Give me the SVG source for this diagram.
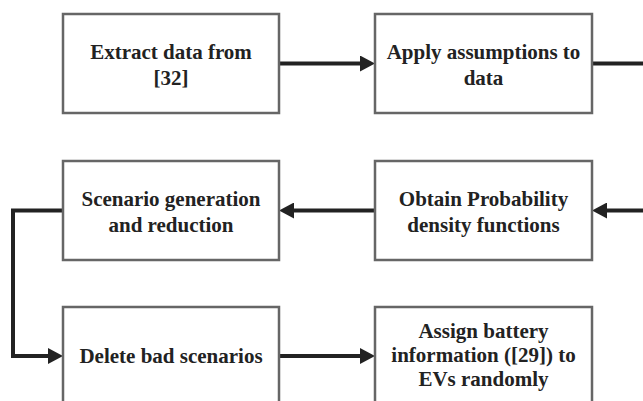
<svg xmlns="http://www.w3.org/2000/svg" width="643" height="401" viewBox="0 0 643 401">
<style>
.box{fill:#fff;stroke:#666;stroke-width:2.5}
.lbl{font-family:"Liberation Serif","Times New Roman",serif;font-weight:bold;font-size:21px;fill:#222;text-anchor:middle}
.con{fill:none;stroke:#222;stroke-width:4;stroke-linejoin:miter}
</style>
<defs>
<marker id="ah" markerUnits="userSpaceOnUse" viewBox="0 0 15 16" refX="0" refY="8" markerWidth="15" markerHeight="16" orient="auto">
<path d="M0,0 L15,8 L0,16 Z" fill="#222"/>
</marker>
</defs>
<rect width="643" height="401" fill="#fff"/>
<g id="connectors">
<path class="con" d="M279,63.5 H360" marker-end="url(#ah)"/>
<path class="con" d="M592,63.5 H643"/>
<path class="con" d="M643,210.5 H607" marker-end="url(#ah)"/>
<path class="con" d="M375,210.5 H294" marker-end="url(#ah)"/>
<path class="con" d="M63,210.5 H13 V356 H48" marker-end="url(#ah)"/>
<path class="con" d="M279,356 H360" marker-end="url(#ah)"/>
</g>
<g id="n1">
<rect class="box" x="63" y="14" width="216" height="99"/>
<text class="lbl" x="171" y="59">Extract data from</text>
<text class="lbl" x="171" y="85">[32]</text>
</g>
<g id="n2">
<rect class="box" x="375" y="14" width="217" height="99"/>
<text class="lbl" x="483.5" y="59">Apply assumptions to</text>
<text class="lbl" x="483.5" y="85">data</text>
</g>
<g id="n3">
<rect class="box" x="375" y="161" width="217" height="99"/>
<text class="lbl" x="483.5" y="206">Obtain Probability</text>
<text class="lbl" x="483.5" y="232">density functions</text>
</g>
<g id="n4">
<rect class="box" x="63" y="161" width="216" height="99"/>
<text class="lbl" x="171" y="206">Scenario generation</text>
<text class="lbl" x="171" y="232">and reduction</text>
</g>
<g id="n5">
<rect class="box" x="63" y="307" width="216" height="99"/>
<text class="lbl" x="171" y="363">Delete bad scenarios</text>
</g>
<g id="n6">
<rect class="box" x="375" y="307" width="217" height="99"/>
<text class="lbl" x="483.5" y="338">Assign battery</text>
<text class="lbl" x="483.5" y="362">information ([29]) to</text>
<text class="lbl" x="483.5" y="386">EVs randomly</text>
</g>
</svg>
